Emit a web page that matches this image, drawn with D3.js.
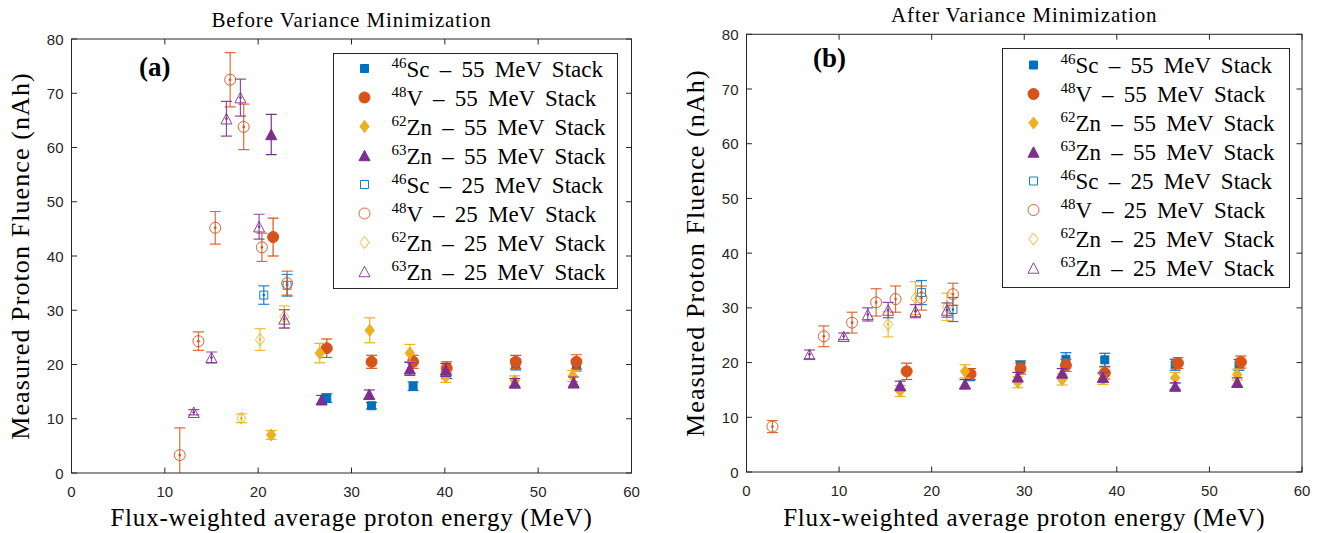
<!DOCTYPE html>
<html><head><meta charset="utf-8">
<script src="https://cdn.jsdelivr.net/npm/d3@7"></script>
<style>body{margin:0;background:#fff}</style>
</head><body><svg id="c" width="1321" height="533"></svg>
<script>
// ---------- tick labels ----------
const xTickValues = [0, 10, 20, 30, 40, 50, 60];
const yTickValues = [0, 10, 20, 30, 40, 50, 60, 70, 80];

// ---------- legend / series ----------
const isotopes = ["46|Sc", "48|V", "62|Zn", "63|Zn", "46|Sc", "48|V", "62|Zn", "63|Zn"];
const stacks = ["55", "55", "55", "55", "25", "25", "25", "25"];
const shapes = ["square", "circle", "diamond", "triangle", "square", "circle", "diamond", "triangle"];
const filled = [true, true, true, true, false, false, false, false];
const colors = ["#0072BD", "#D95319", "#EDB120", "#7E2F8E", "#0072BD", "#D95319", "#EDB120", "#7E2F8E"];

// ---------- data: [energy MeV, fluence nAh, error] ----------
// (a) Before Variance Minimization
const beforeSc55 = [[27.35,13.8,0.8],[32.15,12.4,0.6],[36.6,16.0,0.8],[40.2,18.4,1.0],[47.6,20.0,1.0],[54.1,19.8,1.0]];
const beforeV55 = [[21.6,43.5,3.5],[27.35,23.0,1.7],[32.15,20.5,1.2],[36.6,20.5,1.2],[40.2,19.3,1.2],[47.6,20.5,1.2],[54.1,20.5,1.3]];
const beforeZn62_55 = [[21.4,7.0,0.8],[26.6,22.1,1.8],[31.95,26.3,2.3],[36.25,22.1,1.6],[40.1,17.7,1.0],[47.5,17.0,0.9],[53.7,17.9,1.0]];
const beforeZn63_55 = [[21.4,62.4,3.7],[26.8,13.5,0.8],[31.9,14.5,0.8],[36.25,19.2,1.2],[40.1,19.0,1.2],[47.5,16.6,0.8],[53.8,16.7,1.0]];
const beforeSc25 = [[20.6,32.8,1.7],[23.1,34.6,2.0]];
const beforeV25 = [[11.6,3.3,5.0],[13.6,24.3,1.7],[15.4,45.2,3.0],[17.0,72.5,5.0],[18.45,63.8,4.2],[20.4,41.6,2.6],[23.1,35.0,2.2]];
const beforeZn62_25 = [[18.2,10.1,0.8],[20.2,24.6,2.0],[22.8,28.8,2.0]];
const beforeZn63_25 = [[13.1,11.2,0.5],[15.0,21.3,1.0],[16.6,65.3,3.2],[18.1,69.2,3.4],[20.1,45.4,2.3],[22.8,28.4,1.7]];

// (b) After Variance Minimization
const afterSc55 = [[24.1,17.6,0.9],[29.6,19.5,0.8],[34.5,20.6,1.2],[38.7,20.5,1.2],[46.3,19.6,1.0],[53.2,19.6,1.0]];
const afterV55 = [[17.3,18.4,1.5],[24.2,17.9,1.0],[29.6,18.9,1.0],[34.5,19.5,1.1],[38.7,18.1,1.1],[46.6,19.9,1.0],[53.4,20.1,1.1]];
const afterZn62_55 = [[16.6,14.8,1.0],[23.6,18.4,1.2],[29.3,16.4,1.0],[34.1,16.9,1.0],[38.5,17.0,1.0],[46.3,17.2,1.0],[53.0,17.8,1.0]];
const afterZn63_55 = [[16.6,15.8,0.8],[23.6,16.1,0.8],[29.3,17.4,0.8],[34.1,18.1,0.8],[38.5,17.3,0.8],[46.3,15.7,0.6],[53.0,16.4,0.8]];
const afterSc25 = [[18.9,32.8,2.2],[22.3,29.7,2.2]];
const afterV25 = [[2.8,8.3,1.1],[8.35,24.8,1.9],[11.4,27.3,1.9],[14.0,31.0,2.5],[16.1,31.6,2.4],[18.9,31.8,2.2],[22.3,32.5,2.0]];
const afterZn62_25 = [[15.3,27.0,2.3],[18.25,31.8,3.0],[21.65,30.2,2.5]];
const afterZn63_25 = [[6.8,21.5,0.8],[10.5,24.8,0.6],[13.1,28.8,1.2],[15.3,29.6,1.4],[18.25,29.4,1.2],[21.65,29.6,1.3]];

const beforeSeries = [beforeSc55, beforeV55, beforeZn62_55, beforeZn63_55, beforeSc25, beforeV25, beforeZn62_25, beforeZn63_25];
const afterSeries = [afterSc55, afterV55, afterZn62_55, afterZn63_55, afterSc25, afterV25, afterZn62_25, afterZn63_25];

const svg = d3.select("#c");
const SERIF = "'Liberation Serif', 'Times New Roman', serif";
const SANS = "'Liberation Sans', Arial, sans-serif";
const AX = "#262626";

function shapePath(shape, s) {
  const h = s / 2;
  if (shape === "square") { const q = h * 0.8; return `M${-q},${-q}H${q}V${q}H${-q}Z`; }
  if (shape === "circle") { return `M${h},0A${h},${h} 0 1,1 ${-h},0A${h},${h} 0 1,1 ${h},0Z`; }
  if (shape === "diamond") { const w = h * 0.85, t = h * 1.1; return `M0,${-t}L${w},0L0,${t}L${-w},0Z`; }
  if (shape === "triangle") { const w = h * 1.0, t = h * 0.95; return `M0,${-t}L${w},${t}L${-w},${t}Z`; }
}

function drawMarker(g, shape, isFilled, color, size, withDot) {
  g.append("path").attr("d", shapePath(shape, size))
    .attr("fill", isFilled ? color : "none")
    .attr("stroke", color).attr("stroke-width", 1)
    .attr("stroke-opacity", isFilled ? 1 : 0.9);
  if (!isFilled && withDot) g.append("circle").attr("r", 1.3).attr("fill", color);
}

let clipId = 0;
function drawPanel(cfg) {
  const x = d3.scaleLinear().domain([0, 60]).range([cfg.left, cfg.right]);
  const y = d3.scaleLinear().domain([0, 80]).range([cfg.bottom, cfg.top]);
  const g = svg.append("g");
  const cid = "clip" + (clipId++);
  svg.append("defs").append("clipPath").attr("id", cid).append("rect")
    .attr("x", cfg.left).attr("y", cfg.top).attr("width", cfg.right - cfg.left).attr("height", cfg.bottom - cfg.top);

  const dg = g.append("g").attr("clip-path", `url(#${cid})`);
  cfg.series.forEach((data, i) => {
    const col = colors[i];
    const sg = dg.append("g");
    data.forEach(d => {
      const cx = x(d[0]);
      const y1 = y(d[1] + d[2]), y0 = y(d[1] - d[2]);
      const eg = sg.append("g").attr("stroke", col).attr("stroke-width", 1.2).attr("stroke-opacity", filled[i] ? 1 : 0.85);
      eg.append("line").attr("x1", cx).attr("x2", cx).attr("y1", y1).attr("y2", y0);
      eg.append("line").attr("x1", cx - 5.5).attr("x2", cx + 5.5).attr("y1", y1).attr("y2", y1);
      eg.append("line").attr("x1", cx - 5.5).attr("x2", cx + 5.5).attr("y1", y0).attr("y2", y0);
      const mg = sg.append("g").attr("transform", `translate(${cx},${y(d[1])})`);
      const sz = shapes[i] === "square" ? 10 : 11;
      drawMarker(mg, shapes[i], filled[i], col, sz, true);
    });
  });

  const axG = g.append("g").attr("stroke", AX).attr("stroke-width", 1).attr("fill", "none");
  axG.append("rect").attr("x", cfg.left).attr("y", cfg.top)
    .attr("width", cfg.right - cfg.left).attr("height", cfg.bottom - cfg.top);
  const tl = 5.5;
  xTickValues.forEach(v => {
    axG.append("line").attr("x1", x(v)).attr("x2", x(v)).attr("y1", cfg.bottom).attr("y2", cfg.bottom - tl);
    axG.append("line").attr("x1", x(v)).attr("x2", x(v)).attr("y1", cfg.top).attr("y2", cfg.top + tl);
  });
  yTickValues.forEach(v => {
    axG.append("line").attr("x1", cfg.left).attr("x2", cfg.left + tl).attr("y1", y(v)).attr("y2", y(v));
    axG.append("line").attr("x1", cfg.right).attr("x2", cfg.right - tl).attr("y1", y(v)).attr("y2", y(v));
  });
  g.append("g").selectAll("text").data(xTickValues).join("text")
    .attr("x", d => x(d)).attr("y", cfg.bottom + 24).attr("text-anchor", "middle")
    .attr("font-family", SANS).attr("font-size", 15).attr("fill", AX).text(d => d);
  g.append("g").selectAll("text").data(yTickValues).join("text")
    .attr("x", cfg.left - 8).attr("y", d => y(d) + 5.5).attr("text-anchor", "end")
    .attr("font-family", SANS).attr("font-size", 15).attr("fill", AX).text(d => d);

  g.append("text").attr("x", (cfg.left + cfg.right) / 2).attr("y", cfg.titleY).attr("text-anchor", "middle")
    .attr("font-family", SERIF).attr("font-size", 21).attr("letter-spacing", 0.9).attr("fill", "#000").text(cfg.title);
  g.append("text").attr("x", (cfg.left + cfg.right) / 2).attr("y", 526).attr("text-anchor", "middle")
    .attr("font-family", SERIF).attr("font-size", 25).attr("letter-spacing", 0.8).attr("fill", "#000")
    .text("Flux-weighted average proton energy (MeV)");
  g.append("text").attr("transform", `translate(${cfg.left - 43},${(cfg.top + cfg.bottom) / 2}) rotate(-90)`)
    .attr("text-anchor", "middle").attr("font-family", SERIF).attr("font-size", 26).attr("letter-spacing", 1.1).attr("fill", "#000")
    .text("Measured Proton Fluence (nAh)");
  g.append("text").attr("x", cfg.tagX).attr("y", cfg.tagY).attr("font-family", SERIF)
    .attr("font-weight", "bold").attr("font-size", 27).attr("fill", "#000").text(cfg.tag);

  const L = cfg.legend;
  g.append("rect").attr("x", L.x).attr("y", L.y).attr("width", L.w).attr("height", L.h)
    .attr("fill", "#fff").attr("stroke", AX).attr("stroke-width", 1);
  isotopes.forEach((iso, i) => {
    const ry = L.y + L.first + i * L.step;
    const mg = g.append("g").attr("transform", `translate(${L.x + 31},${ry})`);
    drawMarker(mg, shapes[i], filled[i], colors[i], shapes[i] === "square" ? 10 : 11, false);
    const [mass, el] = iso.split("|");
    const t = g.append("text").attr("x", L.x + 58).attr("y", ry + 8)
      .attr("font-family", SERIF).attr("font-size", 23).attr("fill", "#000").attr("word-spacing", 4.5);
    t.append("tspan").attr("font-size", 15).attr("dy", -9).text(mass);
    t.append("tspan").attr("dy", 9).text(el + " \u2013 " + stacks[i] + " MeV Stack");
  });
}

drawPanel({
  left: 71.5, right: 631.5, top: 39, bottom: 473,
  series: beforeSeries, title: "Before Variance Minimization", titleY: 27,
  tag: "(a)", tagX: 139, tagY: 76,
  legend: { x: 333.5, y: 53.5, w: 284, h: 235, first: 15, step: 29 }
});
drawPanel({
  left: 746.5, right: 1302, top: 34.3, bottom: 472,
  series: afterSeries, title: "After Variance Minimization", titleY: 22,
  tag: "(b)", tagX: 813, tagY: 67,
  legend: { x: 1002.5, y: 48.5, w: 287, h: 239, first: 16.5, step: 29 }
});
</script></body></html>
